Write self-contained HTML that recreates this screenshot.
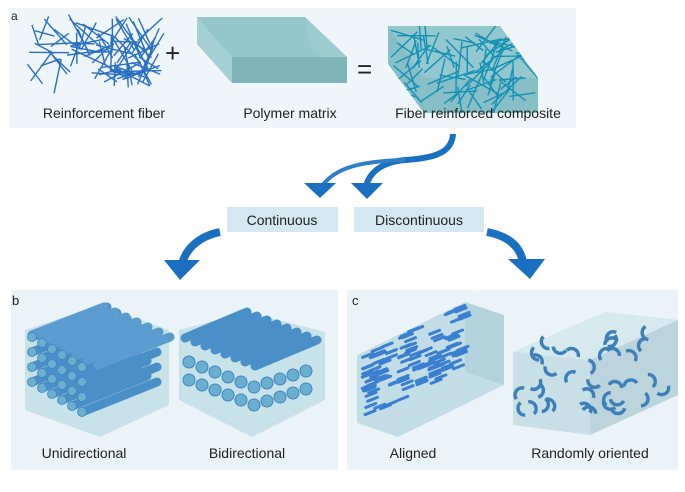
<!DOCTYPE html>
<html><head><meta charset="utf-8"><style>
body{margin:0;width:685px;height:487px;background:#fff;overflow:hidden;font-family:"Liberation Sans",sans-serif}
svg text{font-family:"Liberation Sans",sans-serif;fill:#222}
</style></head><body>
<svg id="s" width="685" height="487" viewBox="0 0 685 487" xmlns="http://www.w3.org/2000/svg">
<defs><clipPath id="cc"><polygon points="388,26 500,26 538,78 538,113 424,113 388,64"/></clipPath></defs>
<rect x="9" y="8" width="567" height="120" fill="#eef6fa"/>
<text x="11" y="20" font-size="12">a</text>
<g id="fib"></g>
<text x="165" y="62" font-size="26">+</text>
<polygon points="197,17 305,17 347,57 347,83 232,83 197,44" fill="#8fc3c8"/>
<polygon points="197,17 305,17 340,57 232,57" fill="#94c7cc"/>
<polygon points="197,17 232,57 232,83 197,44" fill="#a4d0d5"/>
<polygon points="305,17 347,57 347,83 310,45" fill="#9ccbd0"/>
<rect x="232" y="57" width="115" height="26" fill="#7eb3b8"/>
<text x="357" y="78" font-size="26">=</text>
<polygon points="388,26 500,26 538,78 538,113 424,113 388,64" fill="#86c0c6"/>
<polygon points="388,26 500,26 538,78 424,78" fill="#92c8ce"/>
<g id="cfib" clip-path="url(#cc)"></g>
<text x="104" y="118" font-size="14" text-anchor="middle">Reinforcement fiber</text>
<text x="290" y="118" font-size="14" text-anchor="middle">Polymer matrix</text>
<text x="478" y="118" font-size="14" text-anchor="middle">Fiber reinforced composite</text>
<!-- small arrows -->
<path d="M453,134 C452,150 440,158 405,160 C382,162 370,172 366,186" fill="none" stroke="#1a6fc0" stroke-width="6"/>
<path d="M405,160 C360,161 335,168 322,186" fill="none" stroke="#2f7fc6" stroke-width="4"/>
<polygon points="304,183 336,183 320,198" fill="#1a6fc0"/>
<polygon points="351,183 383,183 367,199" fill="#1a6fc0"/>
<rect x="227" y="207" width="111" height="25" fill="#d3e8f1"/>
<text x="282" y="225" font-size="14" text-anchor="middle">Continuous</text>
<rect x="354" y="207" width="130" height="25" fill="#d3e8f1"/>
<text x="419" y="225" font-size="14" text-anchor="middle">Discontinuous</text>
<path d="M220,232 C200,236 186,248 182,264" fill="none" stroke="#1a6fc0" stroke-width="8"/>
<polygon points="164,260 200,260 180,280" fill="#1a6fc0"/>
<path d="M487,232 C508,236 520,246 523,262" fill="none" stroke="#1a6fc0" stroke-width="8"/>
<polygon points="508,259 545,259 530,279" fill="#1a6fc0"/>
<rect x="11" y="290" width="327" height="180" fill="#eaf3f7"/>
<rect x="347" y="290" width="331" height="180" fill="#eaf3f7"/>
<text x="12" y="305" font-size="13">b</text>
<text x="352" y="305" font-size="13">c</text>
<g id="bc"></g>
<text x="84" y="458" font-size="14" text-anchor="middle">Unidirectional</text>
<text x="247" y="458" font-size="14" text-anchor="middle">Bidirectional</text>
<text x="413" y="458" font-size="14" text-anchor="middle">Aligned</text>
<text x="590" y="458" font-size="14" text-anchor="middle">Randomly oriented</text>
</svg>
<script>
var seed=7;function r(){seed=(seed*16807)%2147483647;return seed/2147483647;}
var NS="http://www.w3.org/2000/svg";
function add(g,tag,a){var e=document.createElementNS(NS,tag);for(var k in a)e.setAttribute(k,a[k]);document.getElementById(g).appendChild(e);return e;}
function fibers(g,x0,y0,w,h,col,n){for(var i=0;i<n;i++){var cx=x0+r()*w,cy=y0+r()*h,a=r()*Math.PI,l=20+r()*22;add(g,'line',{x1:cx-Math.cos(a)*l/2,y1:cy-Math.sin(a)*l/2,x2:cx+Math.cos(a)*l/2,y2:cy+Math.sin(a)*l/2,stroke:col,'stroke-width':1.4});}}
fibers('fib',35,28,120,50,'#2a6fc0',85);
fibers('cfib',400,32,130,72,'#1590b5',85);
add('bc','polygon',{points:'25,330 100,305 169,330 169,405 100,437 25,410',fill:'#c8e2ea'});
for(var j=0;j<4;j++)for(var i=0;i<6;i++){var x=32+i*10,y=337+j*15+i*6;add('bc','line',{x1:x,y1:y,x2:x+75,y2:y-30,stroke:'#4a90c8','stroke-width':9,'stroke-linecap':'round'});}
for(var i=0;i<7;i++){var x=32+i*11,y=335+i*5;add('bc','line',{x1:x,y1:y,x2:x+72,y2:y-28,stroke:'#5a9ccf','stroke-width':9,'stroke-linecap':'round'});}
for(var j=0;j<4;j++)for(var i=0;i<6;i++){add('bc','circle',{cx:32+i*10,cy:337+j*15+i*6,r:4.5,fill:'#6aaed0',stroke:'#3f86c0','stroke-width':0.8});}
add('bc','polygon',{points:'179,330 248,312 325,332 325,400 252,437 179,400',fill:'#c8e2ea'});
for(var i=0;i<8;i++){var x=185+i*10,y=338+i*4;add('bc','line',{x1:x,y1:y,x2:x+62,y2:y-26,stroke:'#4a90c8','stroke-width':9,'stroke-linecap':'round'});}
for(var j=0;j<2;j++)for(var i=0;i<10;i++){add('bc','circle',{cx:189+i*13,cy:362+j*18+(i<5?i*5:25-(i-5)*4),r:6,fill:'#6aaed0',stroke:'#3f86c0'});}
add('bc','polygon',{points:'357,355 465,302 504,315 504,385 398,437 357,423',fill:'#c3dde6'});
add('bc','polygon',{points:'465,302 504,315 504,385 465,372',fill:'#b5d3dc'});
for(var i=0;i<120;i++){var t=r(),u=r();var x=362+t*100,y=355+u*65-t*50;add('bc','line',{x1:x,y1:y,x2:x+10,y2:y-4,stroke:'#3a7fd0','stroke-width':3,'stroke-linecap':'round'});}
add('bc','polygon',{points:'513,352 605,312 678,320 678,395 590,435 513,425',fill:'#c8dfe6'});
add('bc','polygon',{points:'513,352 605,312 678,320 590,360',fill:'#d6e9ef'});
add('bc','polygon',{points:'590,360 678,320 678,395 590,435',fill:'#bcd5dd'});
for(var i=0;i<36;i++){var t=r(),u=r();var cx=522+t*145,cy=340+u*75-(t>0.5?(t-0.5)*30:0),a=r()*6.28,R=7;add('bc','path',{d:'M'+(cx+R*Math.cos(a))+','+(cy+R*Math.sin(a))+' A'+R+','+R+' 0 0 1 '+(cx+R*Math.cos(a+2.5))+','+(cy+R*Math.sin(a+2.5)),fill:'none',stroke:'#3f7fb8','stroke-width':3.5});}
</script>
</body></html>
